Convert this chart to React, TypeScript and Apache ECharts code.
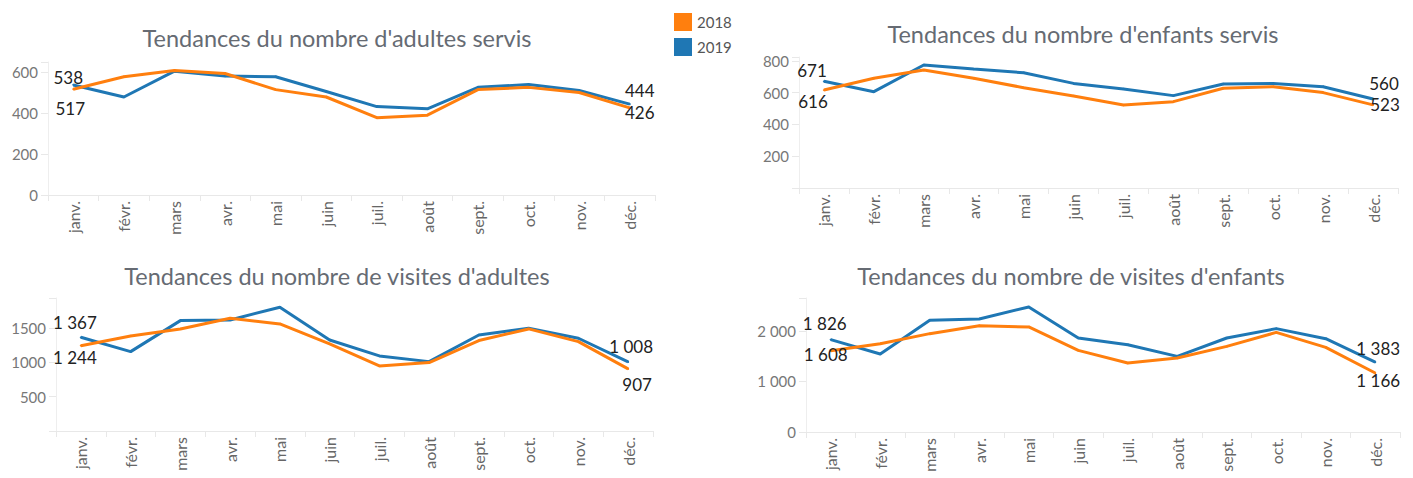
import React, { useEffect, useRef } from "react";
import * as echarts from "echarts";

const months = ["janv.", "févr.", "mars", "avr.", "mai", "juin", "juil.", "août", "sept.", "oct.", "nov.", "déc."];
const seriesNames = ["2018", "2019"];

const adultes2018 = [517, 578, 609, 594, 515, 479, 378, 390, 515, 526, 501, 426];
const adultes2019 = [538, 479, 605, 581, 578, 506, 432, 421, 526, 540, 511, 444];
const enfants2018 = [616, 690, 742, 690, 631, 579, 522, 543, 627, 637, 600, 523];
const enfants2019 = [671, 606, 774, 748, 725, 658, 623, 581, 654, 658, 637, 560];
const visitesAdultes2018 = [1244, 1387, 1489, 1645, 1562, 1270, 949, 998, 1319, 1489, 1304, 907];
const visitesAdultes2019 = [1367, 1158, 1610, 1620, 1806, 1328, 1095, 1012, 1401, 1499, 1353, 1008];
const visitesEnfants2018 = [1608, 1747, 1945, 2103, 2077, 1614, 1364, 1463, 1693, 1970, 1673, 1166];
const visitesEnfants2019 = [1826, 1542, 2208, 2236, 2473, 1859, 1727, 1495, 1859, 2044, 1846, 1383];

const titles = [
  "Tendances du nombre d'adultes servis",
  "Tendances du nombre d'enfants servis",
  "Tendances du nombre de visites d'adultes",
  "Tendances du nombre de visites d'enfants",
];

const ORANGE = "#ff7f0e";
const BLUE = "#1f77b4";
const FONT = "Lato, 'Open Sans', sans-serif";

const frNum = (v: number) => String(v).replace(/\B(?=(\d{3})+(?!\d))/g, " ");

export default function App() {
  const ref = useRef<HTMLDivElement>(null);
  useEffect(() => {
    document.body.style.margin = "0";
    const chart = echarts.init(ref.current!, undefined, { renderer: "svg" });

    const grids = [
      { left: 48, top: 62, width: 607, height: 133 },
      { left: 799, top: 57, width: 599, height: 131 },
      { left: 56, top: 298, width: 597, height: 133 },
      { left: 806, top: 298, width: 594, height: 134 },
    ];
    const yCfg = [
      { max: 650, interval: 200, fmt: (v: number) => (v % 200 === 0 ? String(v) : "") },
      { max: 824, interval: 200, fmt: (v: number) => (v > 0 && v % 200 === 0 ? String(v) : "") },
      { max: 1940, interval: 500, fmt: (v: number) => (v > 0 && v % 500 === 0 ? String(v) : "") },
      { max: 2650, interval: 1000, fmt: (v: number) => (v % 1000 === 0 ? frNum(v) : "") },
    ];
    const titlePos = [
      { x: 332, y: 33 },
      { x: 1078, y: 29 },
      { x: 332, y: 271 },
      { x: 1066, y: 271 },
    ];
    const data = [
      [adultes2018, adultes2019],
      [enfants2018, enfants2019],
      [visitesAdultes2018, visitesAdultes2019],
      [visitesEnfants2018, visitesEnfants2019],
    ];
    // label offsets [first, last] for [2018, 2019]
    const labelOffsets: number[][][][] = [
      [[[-3, 19], [10, 5]], [[-5, -7], [10, -14]]],
      [[[-11, 11], [12, 0]], [[-12, -11], [11, -15]]],
      [[[-6, 12], [9, 16]], [[-6, -15], [3, -15]]],
      [[[-5, 4], [3, 7]], [[-6, -16], [3, -14]]],
    ];

    const series: any[] = [];
    for (let g = 0; g < 4; g++) {
      for (const s of [1, 0]) {
        const vals = data[g][s];
        series.push({
          name: seriesNames[s],
          type: "line",
          xAxisIndex: g,
          yAxisIndex: g,
          symbol: "circle",
          symbolSize: 2,
          showSymbol: true,
          color: s === 0 ? ORANGE : BLUE,
          lineStyle: { width: 3, color: s === 0 ? ORANGE : BLUE },
          itemStyle: { color: s === 0 ? ORANGE : BLUE },
          z: s === 0 ? 3 : 2,
          data: vals.map((v, i) => {
            const isEnd = i === 0 || i === vals.length - 1;
            if (!isEnd) return v;
            const off = labelOffsets[g][s][i === 0 ? 0 : 1];
            return {
              value: v,
              label: {
                show: true,
                position: "inside",
                offset: off,
                formatter: (p: any) => frNum(p.value),
                color: "#222",
                fontSize: 17,
                fontFamily: FONT,
                align: "center",
                verticalAlign: "middle",
              },
            };
          }),
        });
      }
    }

    chart.setOption({
      animation: false,
      backgroundColor: "#ffffff",
      title: titles.map((t, i) => ({
        text: t,
        left: titlePos[i].x,
        top: titlePos[i].y,
        textAlign: "center",
        textVerticalAlign: "middle",
        textStyle: { fontFamily: FONT, fontSize: 23.5, fontWeight: "normal", color: "#666b73" },
      })),
      legend: {
        data: seriesNames,
        orient: "vertical",
        left: 669,
        top: 8,
        itemWidth: 18,
        itemHeight: 18,
        itemGap: 7,
        icon: "rect",
        textStyle: { fontFamily: FONT, fontSize: 15, color: "#555" },
      },
      grid: grids,
      xAxis: grids.map((_, i) => ({
        type: "category",
        gridIndex: i,
        data: months,
        boundaryGap: true,
        axisLine: { show: true, lineStyle: { color: "#e8e8e8", width: 1 } },
        axisTick: { show: true, length: 6, lineStyle: { color: "#e8e8e8" } },
        axisLabel: { rotate: 90, margin: 6, fontFamily: FONT, fontSize: 16, color: "#666" },
        splitLine: { show: false },
      })),
      yAxis: grids.map((_, i) => ({
        type: "value",
        gridIndex: i,
        min: 0,
        max: yCfg[i].max,
        interval: yCfg[i].interval,
        axisLine: { show: true, lineStyle: { color: "#eeeeee", width: 1 } },
        axisTick: { show: true, length: 7, lineStyle: { color: "#e8e8e8" } },
        splitLine: { show: false },
        axisLabel: { margin: 10, fontFamily: FONT, fontSize: 15, color: "#777", formatter: yCfg[i].fmt },
      })),
      series,
    });
    return () => chart.dispose();
  }, []);
  return <div ref={ref} style={{ width: 1413, height: 478 }} />;
}
